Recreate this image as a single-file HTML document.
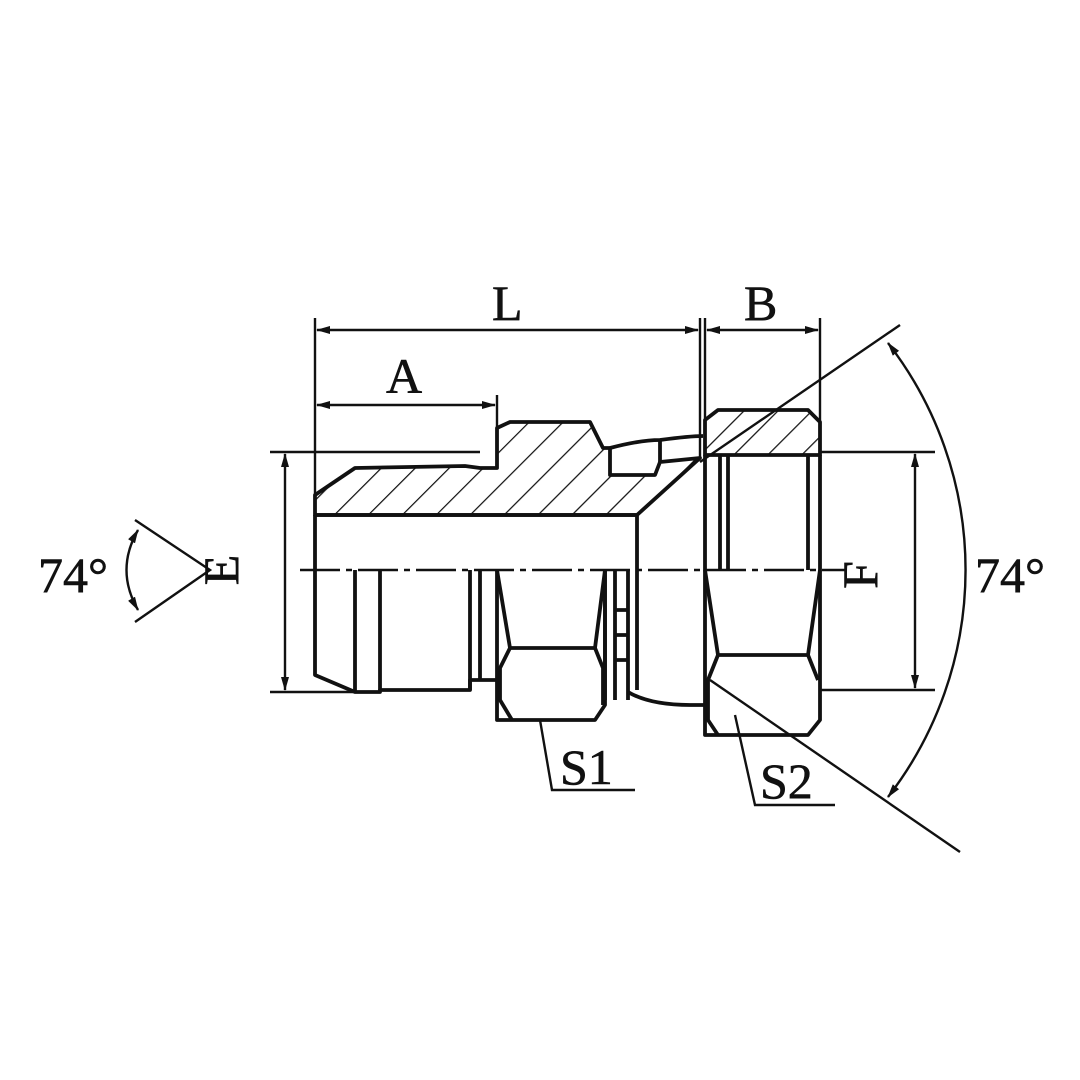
<!DOCTYPE html><html><head><style>body{margin:0;background:#fff}svg{display:block}text{font-family:"Liberation Serif",serif;fill:#111}</style></head><body>
<svg width="1080" height="1080" viewBox="0 0 1080 1080" xmlns="http://www.w3.org/2000/svg">
<defs>
<pattern id="h" patternUnits="userSpaceOnUse" width="24" height="24" patternTransform="rotate(45)"><line x1="0" y1="0" x2="0" y2="24" stroke="#111" stroke-width="2.5"/></pattern>
<marker id="a" markerWidth="14" markerHeight="8" refX="13" refY="4" orient="auto-start-reverse" markerUnits="userSpaceOnUse"><path d="M0,0 L14,4 L0,8 z" fill="#111"/></marker>
</defs>
<g fill="none" stroke="#111" stroke-width="3.8" stroke-linejoin="round">
<path d="M315,515 L315,495 L355,468 L465,466 L480,468 L497,468 L497,428 L510,422 L590,422 L603,448 L610,448 L610,475 L655,475 L660,462 L700,458 L637,515 Z" fill="url(#h)"/>
<path d="M610,448 Q640,440 660,440 Q690,436 703,436" />
<path d="M660,440 L660,462"/>
<path d="M705,455 L705,420 L718,410 L808,410 L820,422 L820,455 Z" fill="url(#h)"/>
<path d="M315,515 L637,515 L637,570"/>
<path d="M315,515 L315,675 L355,692 L380,692 L380,690 L470,690 L470,680 L497,680"/>
<path d="M355,570 L355,692 M380,570 L380,690 M470,570 L470,690 M480,570 L480,680"/>
<path d="M497,570 L497,720 L512,720 L595,720 L605,705 L605,570"/>
<path d="M497,570 L510,648 L595,648 L605,570"/>
<path d="M510,648 L500,668 L500,700 L512,720 M595,648 L603,668 L603,705"/>
<path d="M605,570 L605,700 M615,570 L615,700 M628,570 L628,700 M615,610 L628,610 M615,635 L628,635 M615,660 L628,660"/>
<path d="M628,692 Q650,705 690,705 L705,705"/>
<path d="M637,570 L637,690"/>
<path d="M705,455 L705,735 L718,735 L808,735 L820,720 L820,455"/>
<path d="M720,455 L720,570 M728,455 L728,570 M808,455 L808,570"/>
<path d="M705,570 L718,655 L808,655 L820,570"/>
<path d="M718,655 L708,680 L708,720 L718,735 M808,655 L818,680"/>
</g>
<g stroke="#111" stroke-width="2.4" fill="none">
<line x1="300" y1="570" x2="845" y2="570" stroke-dasharray="40,6,6,6"/>
<line x1="315" y1="318" x2="315" y2="515"/>
<line x1="700" y1="318" x2="700" y2="458"/>
<line x1="705" y1="318" x2="705" y2="420"/>
<line x1="820" y1="318" x2="820" y2="422"/>
<line x1="497" y1="395" x2="497" y2="428"/>
<line x1="270" y1="452" x2="480" y2="452"/>
<line x1="270" y1="692" x2="380" y2="692"/>
<line x1="820" y1="452" x2="935" y2="452"/>
<line x1="820" y1="690" x2="935" y2="690"/>
<line x1="317" y1="330" x2="698" y2="330" marker-start="url(#a)" marker-end="url(#a)"/>
<line x1="707" y1="330" x2="818" y2="330" marker-start="url(#a)" marker-end="url(#a)"/>
<line x1="317" y1="405" x2="495" y2="405" marker-start="url(#a)" marker-end="url(#a)"/>
<line x1="285" y1="454" x2="285" y2="690" marker-start="url(#a)" marker-end="url(#a)"/>
<line x1="915" y1="454" x2="915" y2="688" marker-start="url(#a)" marker-end="url(#a)"/>
<line x1="900" y1="325" x2="700" y2="462"/>
<line x1="710" y1="680" x2="960" y2="852"/>
<path d="M888,343 A371,371 0 0 1 888,797" marker-start="url(#a)" marker-end="url(#a)"/>
<path d="M135,520 L210,570 L135,622"/>
<path d="M138,530 Q115,570 138,610" marker-start="url(#a)" marker-end="url(#a)"/>
<path d="M540,720 L552,790 L635,790"/>
<path d="M735,715 L755,805 L835,805"/>
</g>
<g font-size="50" stroke="#111" stroke-width="0.6">
<text x="492" y="320">L</text>
<text x="386" y="393">A</text>
<text x="744" y="320">B</text>
<text x="38" y="592">74°</text>
<text x="975" y="592">74°</text>
<text x="560" y="784">S1</text>
<text x="760" y="798">S2</text>
<text transform="translate(238,570) rotate(-90)" text-anchor="middle">E</text>
<text transform="translate(877,575) rotate(-90)" text-anchor="middle">F</text>
</g>
</svg></body></html>
